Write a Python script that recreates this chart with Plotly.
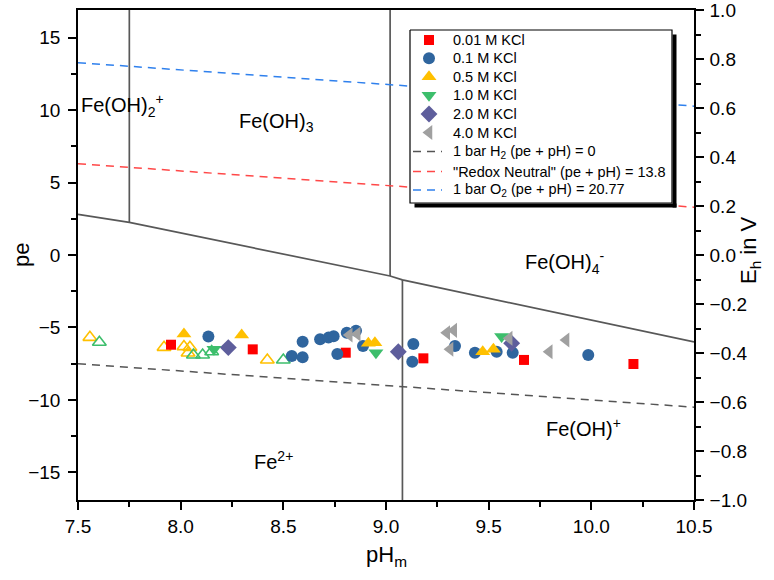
import plotly.graph_objects as go

# ---------------- data ----------------
ph_kcl001 = [7.953, 8.351, 8.804, 9.182, 9.672, 10.205]
pe_kcl001 = [-6.19, -6.51, -6.74, -7.13, -7.24, -7.52]

ph_kcl01 = [8.135, 8.541, 8.594, 8.594, 8.679, 8.72, 8.745, 8.809, 8.854, 8.763, 8.888, 9.133, 9.128, 9.336, 9.433, 9.539, 9.617, 9.985]
pe_kcl01 = [-5.63, -6.97, -7.06, -5.98, -5.82, -5.70, -5.60, -5.36, -5.22, -6.83, -6.28, -6.14, -7.36, -6.28, -6.74, -6.67, -6.74, -6.90]

ph_kcl05 = [8.016, 8.297, 8.914, 8.946, 9.471, 9.523]
pe_kcl05 = [-5.45, -5.52, -6.09, -6.05, -6.67, -6.51]
ph_kcl05_open = [7.558, 7.919, 8.016, 8.045, 8.036, 8.422]
pe_kcl05_open = [-5.68, -6.37, -6.32, -6.37, -6.76, -7.24]

ph_kcl10 = [8.162, 8.951, 9.563]
pe_kcl10 = [-6.51, -6.74, -5.62]
ph_kcl10_open = [7.604, 8.062, 8.107, 8.151, 8.50]
pe_kcl10_open = [-6.02, -6.90, -6.90, -6.67, -7.24]

ph_kcl20 = [8.232, 9.06, 9.612]
pe_kcl20 = [-6.39, -6.67, -6.09]

ph_kcl40 = [8.821, 8.860, 9.296, 9.33, 9.312, 9.60, 9.795, 9.877]
pe_kcl40 = [-5.52, -5.45, -5.36, -5.20, -6.51, -5.75, -6.67, -5.86]

# pe + pH constants for the reference lines
c_h2, c_redox, c_o2 = 0.0, 13.8, 20.77
ph_line = [7.5, 10.5]

# predominance boundaries (pe vs pH)
bnd_ph = [7.5, 7.75, 9.02, 9.08, 10.5]
bnd_pe = [2.8, 2.25, -1.45, -1.72, -6.0]
v1_ph, v1_pe = [7.75, 7.75], [16.903, 2.25]
v2_ph, v2_pe = [9.02, 9.02], [16.903, -1.45]
v3_ph, v3_pe = [9.08, 9.08], [-1.72, -16.903]

region_text = ["Fe(OH)<sub>2</sub><sup>+</sup>", "Fe(OH)<sub>3</sub>", "Fe(OH)<sub>4</sub><sup>-</sup>",
               "Fe<sup>2+</sup>", "Fe(OH)<sup>+</sup>"]
region_ph = [7.505, 8.465, 9.87, 8.45, 9.96]
region_pe = [10.3, 9.15, -0.55, -14.2, -11.9]
region_anchor = ["left", "center", "center", "center", "center"]

x_title = "pH<sub>m</sub>"
y_title = "pe"
y2_title = "E<sub>h</sub> in V"

PE_MAX = 1.0 / 0.05916
EPS = 1e-7

# ---------------- geometry helpers (pixels of the 774x580 page) ----------------
PX_L, PX_R, PX_T, PX_B = 78, 694, 10, 500
def px_to_paper_x(px):
    return (px - PX_L) / (PX_R - PX_L)
def px_to_paper_y(py):
    return (PX_B - py) / (PX_B - PX_T)

fig = go.Figure()

bcol = "#585858"
for xs, ys in [(bnd_ph, bnd_pe), (v1_ph, v1_pe), (v2_ph, v2_pe), (v3_ph, v3_pe)]:
    fig.add_trace(go.Scatter(x=xs, y=ys, mode="lines", line=dict(color=bcol, width=1.7),
                             showlegend=False, hoverinfo="skip"))

series = [
    # name, xs, ys, symbol, color, size
    ("0.01 M KCl", ph_kcl001, pe_kcl001, "square", "#FF0000", 10),
    ("0.1 M KCl", ph_kcl01, pe_kcl01, "circle", "#2F659E", 12),
    ("0.5 M KCl", ph_kcl05, pe_kcl05, "triangle-up", "#FFC000", 13),
    ("1.0 M KCl", ph_kcl10, pe_kcl10, "triangle-down", "#3DBE6C", 13),
    ("2.0 M KCl", ph_kcl20, pe_kcl20, "diamond", "#5E5E9C", 13),
    ("4.0 M KCl", ph_kcl40, pe_kcl40, "triangle-left", "#A0A0A0", 13),
]
open_series = [
    (ph_kcl05_open, pe_kcl05_open, "#FFC000"),
    (ph_kcl10_open, pe_kcl10_open, "#3DBE6C"),
]
ref_lines = [
    ("1 bar H<sub>2</sub> (pe + pH) = 0", c_h2, "#555555"),
    ("\"Redox Neutral\" (pe + pH) = 13.8", c_redox, "#FF4848"),
    ("1 bar O<sub>2</sub> (pe + pH) = 20.77", c_o2, "#2F80ED"),
]
DASH = "8px,6px"

for xs, ys, col in open_series:
    fig.add_trace(go.Scatter(x=xs, y=ys, mode="markers", showlegend=False,
                             marker=dict(symbol="triangle-up-open", color=col, size=12,
                                         line=dict(width=1.6, color=col))))
for name, xs, ys, sym, col, sz in series:
    fig.add_trace(go.Scatter(x=xs, y=ys, mode="markers", name=name, showlegend=False,
                             marker=dict(symbol=sym, color=col, size=sz, line=dict(width=0))))
for name, c, col in ref_lines:
    fig.add_trace(go.Scatter(x=ph_line, y=[c - p for p in ph_line], mode="lines", name=name,
                             showlegend=False, line=dict(color=col, width=1.5, dash=DASH)))

# dummy trace on right axis so it is drawn
fig.add_trace(go.Scatter(x=[7.5], y=[0], yaxis="y2", mode="markers", marker=dict(opacity=0),
                         showlegend=False, hoverinfo="skip"))

for txt, x, y, anc in zip(region_text, region_ph, region_pe, region_anchor):
    fig.add_annotation(x=x, y=y, text=txt, showarrow=False, xanchor=anc,
                       font=dict(size=20, color="black"))

# axis titles
fig.add_annotation(xref="paper", yref="paper", x=px_to_paper_x(386), y=px_to_paper_y(556),
                   text=x_title, showarrow=False, xanchor="center", yanchor="middle",
                   font=dict(size=22, color="black"))
fig.add_annotation(xref="paper", yref="paper", x=px_to_paper_x(21), y=px_to_paper_y(255),
                   text=y_title, showarrow=False, textangle=-90, xanchor="center", yanchor="middle",
                   font=dict(size=22, color="black"))
fig.add_annotation(xref="paper", yref="paper", x=px_to_paper_x(750), y=px_to_paper_y(250),
                   text=y2_title, showarrow=False, textangle=-90, xanchor="center", yanchor="middle",
                   font=dict(size=22, color="black"))

# ---------------- legend box (inset subplot in pixel units) ----------------
LG_L, LG_R, LG_T, LG_B = 410, 672, 30, 203
W, H = LG_R - LG_L, LG_B - LG_T
fig.add_trace(go.Scatter(x=[0, W, W, 0, 0], y=[0, 0, H, H, 0], xaxis="x3", yaxis="y3",
                         mode="lines", fill="toself", fillcolor="white",
                         line=dict(color="black", width=1.2), showlegend=False, hoverinfo="skip"))
row_y = [10, 28.3, 46.7, 65.3, 84, 102.5, 121.5, 141.5, 160]
SYM_X, TXT_X = 19, 41
entries = [(s[0], "m", s[3], s[4], s[5]) for s in series] + [(r[0], "l", None, r[2], None) for r in ref_lines]
for (name, kind, sym, col, sz), ry in zip(entries, row_y):
    if kind == "m":
        fig.add_trace(go.Scatter(x=[SYM_X], y=[ry], xaxis="x3", yaxis="y3", mode="markers",
                                 marker=dict(symbol=sym, color=col, size=sz, line=dict(width=0)),
                                 showlegend=False, hoverinfo="skip"))
    else:
        fig.add_trace(go.Scatter(x=[3, 32], y=[ry, ry], xaxis="x3", yaxis="y3", mode="lines",
                                 line=dict(color=col, width=1.5, dash=DASH),
                                 showlegend=False, hoverinfo="skip"))
    fig.add_annotation(x=TXT_X, y=ry, xref="x3", yref="y3", text=name, showarrow=False,
                       xanchor="left", yanchor="middle", font=dict(size=14.5, color="black"))

# drop shadow strips
SH = 4.5
fig.add_shape(type="rect", xref="paper", yref="paper", layer="above", line=dict(width=0), fillcolor="black",
              x0=px_to_paper_x(LG_R + 0.6), x1=px_to_paper_x(LG_R + SH),
              y0=px_to_paper_y(LG_B + SH), y1=px_to_paper_y(LG_T + SH))
fig.add_shape(type="rect", xref="paper", yref="paper", layer="above", line=dict(width=0), fillcolor="black",
              x0=px_to_paper_x(LG_L + SH), x1=px_to_paper_x(LG_R + SH),
              y0=px_to_paper_y(LG_B + SH), y1=px_to_paper_y(LG_B + 0.6))

tickfont = dict(family="Liberation Sans, Arial", size=19, color="black")
common = dict(showgrid=False, zeroline=False, showline=True, linecolor="black", linewidth=1.5,
              ticks="outside", ticklen=8, tickwidth=1.5, tickcolor="black", tickfont=tickfont,
              automargin=False, ticklabeloverflow="allow")
fig.update_layout(
    width=774, height=580,
    margin=dict(l=PX_L, r=774 - PX_R, t=PX_T, b=580 - PX_B),
    plot_bgcolor="white", paper_bgcolor="white",
    font=dict(family="Liberation Sans, Arial", color="black"),
    xaxis=dict(range=[7.5 - EPS, 10.5 + EPS], dtick=0.5, tick0=0, tickformat=".1f", mirror=True,
               minor=dict(dtick=0.25, ticks="outside", ticklen=5, tickwidth=1.5, tickcolor="black"),
               ticklabelstandoff=0, **common),
    yaxis=dict(range=[-PE_MAX, PE_MAX], dtick=5, tick0=0,
               minor=dict(dtick=2.5, tick0=0, ticks="outside", ticklen=5, tickwidth=1.5, tickcolor="black"),
               ticklabelstandoff=4, **common),
    yaxis2=dict(range=[-1 - EPS, 1 + EPS], dtick=0.2, tick0=0, tickformat=".1f", overlaying="y", side="right",
                minor=dict(dtick=0.1, ticks="outside", ticklen=5, tickwidth=1.5, tickcolor="black"),
                ticklabelstandoff=2, **common),
    xaxis3=dict(domain=[px_to_paper_x(LG_L - 1), px_to_paper_x(LG_R + 1)], range=[-1, W + 1],
                anchor="y3", visible=False, fixedrange=True),
    yaxis3=dict(domain=[px_to_paper_y(LG_B + 1), px_to_paper_y(LG_T - 1)], range=[H + 1, -1],
                anchor="x3", visible=False, fixedrange=True),
    showlegend=False,
)

fig.write_html("out.html")
